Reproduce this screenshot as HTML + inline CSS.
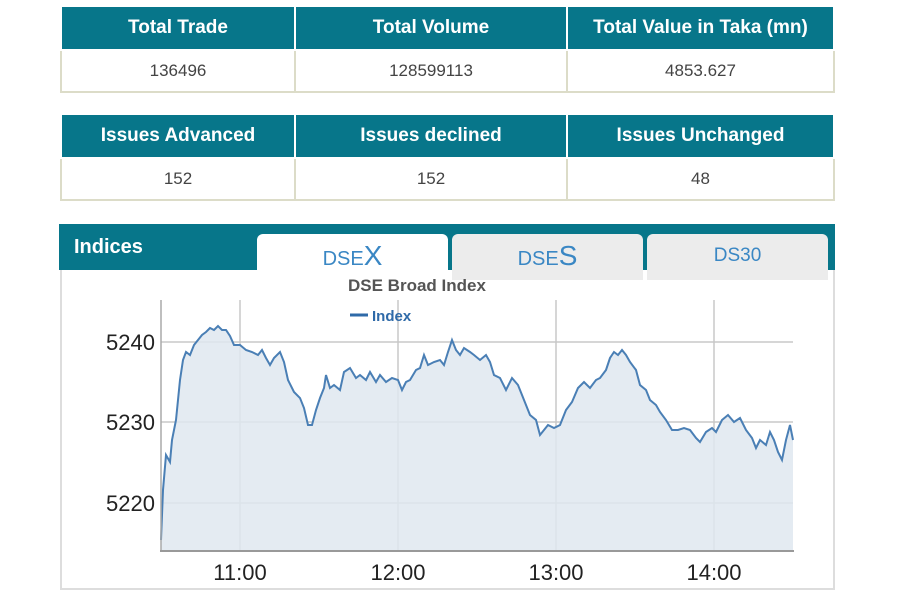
<!DOCTYPE html>
<html><head><style>
body{margin:0;width:900px;height:600px;background:#fff;font-family:"Liberation Sans",Arial,sans-serif;position:relative;overflow:hidden}
.t{position:absolute;left:60px;width:775px;border-collapse:collapse}
.t td{border:2px solid #dcdcc8;text-align:center;font-size:17px;color:#444;height:40px;padding:0}
.t th{background:#07768a;color:#fff;font-size:19px;font-weight:bold;height:42px;border:2px solid #fff;border-top:0;padding:0}
.tab{position:absolute;top:234px;height:46px;border-radius:6px 6px 0 0;text-align:center;color:#3a87c4;font-size:20px;line-height:44px}
</style></head><body>
<table class="t" style="top:7px"><tr><th style="width:232px">Total Trade</th><th style="width:270px">Total Volume</th><th>Total Value in Taka (mn)</th></tr>
<tr><td>136496</td><td>128599113</td><td>4853.627</td></tr></table>
<table class="t" style="top:115px"><tr><th style="width:232px">Issues Advanced</th><th style="width:270px">Issues declined</th><th>Issues Unchanged</th></tr>
<tr><td>152</td><td>152</td><td>48</td></tr></table>
<div style="position:absolute;left:59px;top:224px;width:776px;height:46px;background:#07768a"></div>
<div style="position:absolute;left:60px;top:270px;width:775px;height:320px;border:2px solid #ddd;border-top:0;box-sizing:border-box;background:#fff"></div>
<div style="position:absolute;left:62px;top:270px;width:193px;height:3px;background:#fff"></div>
<div style="position:absolute;left:74px;top:236px;color:#fff;font-weight:bold;font-size:20px">Indices</div>
<div class="tab" style="left:257px;width:191px;background:#fff;height:50px">DSE<span style="font-size:28px">X</span></div>
<div class="tab" style="left:452px;width:191px;background:#ececec">DSE<span style="font-size:28px">S</span></div>
<div class="tab" style="left:647px;width:181px;background:#ececec;font-size:19px">DS30</div>
<svg style="position:absolute;left:0;top:0" width="900" height="600">
<g stroke="#c8c8c8" stroke-width="1.5">
<line x1="161" y1="342" x2="793" y2="342"/><line x1="161" y1="422" x2="793" y2="422"/><line x1="161" y1="503" x2="793" y2="503"/>
<line x1="240" y1="300" x2="240" y2="551"/><line x1="398" y1="300" x2="398" y2="551"/><line x1="556" y1="300" x2="556" y2="551"/><line x1="714" y1="300" x2="714" y2="551"/>
</g>
<polygon fill="#dfe7f0" fill-opacity="0.85" stroke="none" points="161,551 161,540 163,490 166,455 170,462 172,440 176,420 180,380 183,360 186,352 190,355 194,345 198,340 202,335 206,332 210,328 214,330 218,326 222,330 226,330 230,336 234,345 240,345 246,350 252,352 258,355 262,350 266,358 270,365 274,358 280,352 284,362 288,380 294,392 300,398 304,408 308,425 312,425 316,410 320,398 324,388 326,375 330,388 334,385 340,390 344,372 350,368 356,378 360,375 366,380 370,372 376,382 380,375 386,382 392,378 398,380 402,390 406,382 410,380 416,370 420,368 424,355 428,365 434,362 440,360 444,365 448,352 452,340 456,350 460,355 464,348 470,352 474,355 480,360 486,355 490,362 494,375 500,378 506,390 512,378 518,385 524,400 530,415 536,420 540,435 544,430 548,425 554,428 560,425 566,410 572,402 578,388 584,382 590,388 596,380 600,378 606,370 610,358 614,352 618,355 622,350 626,355 630,362 636,370 640,385 646,390 650,400 656,405 660,412 666,420 672,430 678,430 684,428 690,430 696,438 700,442 706,432 712,428 716,432 722,420 728,415 734,422 740,418 746,430 752,438 756,448 760,440 766,445 770,432 774,440 778,452 782,460 786,440 790,425 793,440 793,551"/>
<polyline fill="none" stroke="#4a7fb5" stroke-width="2" points="161,540 163,490 166,455 170,462 172,440 176,420 180,380 183,360 186,352 190,355 194,345 198,340 202,335 206,332 210,328 214,330 218,326 222,330 226,330 230,336 234,345 240,345 246,350 252,352 258,355 262,350 266,358 270,365 274,358 280,352 284,362 288,380 294,392 300,398 304,408 308,425 312,425 316,410 320,398 324,388 326,375 330,388 334,385 340,390 344,372 350,368 356,378 360,375 366,380 370,372 376,382 380,375 386,382 392,378 398,380 402,390 406,382 410,380 416,370 420,368 424,355 428,365 434,362 440,360 444,365 448,352 452,340 456,350 460,355 464,348 470,352 474,355 480,360 486,355 490,362 494,375 500,378 506,390 512,378 518,385 524,400 530,415 536,420 540,435 544,430 548,425 554,428 560,425 566,410 572,402 578,388 584,382 590,388 596,380 600,378 606,370 610,358 614,352 618,355 622,350 626,355 630,362 636,370 640,385 646,390 650,400 656,405 660,412 666,420 672,430 678,430 684,428 690,430 696,438 700,442 706,432 712,428 716,432 722,420 728,415 734,422 740,418 746,430 752,438 756,448 760,440 766,445 770,432 774,440 778,452 782,460 786,440 790,425 793,440"/>
<line x1="161" y1="300" x2="161" y2="552" stroke="#aaa" stroke-width="1.5"/>
<line x1="160" y1="551" x2="794" y2="551" stroke="#999" stroke-width="2"/>
<g font-family="Liberation Sans,Arial,sans-serif" font-size="22" fill="#222">
<text x="155" y="350" text-anchor="end">5240</text><text x="155" y="430" text-anchor="end">5230</text><text x="155" y="511" text-anchor="end">5220</text>
<text x="240" y="580" text-anchor="middle">11:00</text><text x="398" y="580" text-anchor="middle">12:00</text><text x="556" y="580" text-anchor="middle">13:00</text><text x="714" y="580" text-anchor="middle">14:00</text>
</g>
<text x="348" y="291" font-family="Liberation Sans,Arial,sans-serif" font-size="17" font-weight="bold" fill="#555">DSE Broad Index</text>
<line x1="350" y1="315" x2="368" y2="315" stroke="#2f6aa8" stroke-width="3"/>
<text x="372" y="321" font-family="Liberation Sans,Arial,sans-serif" font-size="15" font-weight="bold" fill="#2f6aa8">Index</text>
</svg>
</body></html>
